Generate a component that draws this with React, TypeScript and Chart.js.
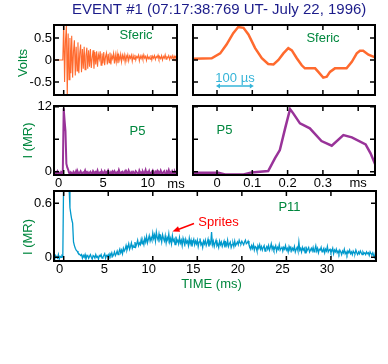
import React, { useEffect, useRef } from "react";
import { Chart, registerables } from "chart.js";
Chart.register(...registerables);

const W = 388;
const H = 364;
const FONT = "'Liberation Sans', Arial, Helvetica, sans-serif";
const GREEN = "#00873e";
const NAVY = "#1c1c8a";
const ORANGE = "#ff6a2e";
const PURPLE = "#993399";
const CYAN = "#0099cc";
const SCALEBAR = "#35b4d8";
const RED = "#ff0000";

const DT = 0.1;

// Top-left: sferic, volts, sampled every 0.1 ms from -1.1 ms
const TL_T0 = -1.1;
const TL_VOLTS = [
  0, 0, 0, 0, 0, 0, 0, 0, 0, 0, 0,
  0.85, -0.5, 0.45, 0.78, -0.82, 0.6, -0.45, 0.5, -0.3, 0.55,
  -0.4, 0.2, 0.45, -0.35, 0.3, -0.25, 0.4, -0.3, 0.15, 0.35,
  -0.28, 0.25, -0.2, 0.3, -0.22, 0.1, 0.28, -0.2, 0.22, -0.15,
  0.25, -0.18, 0.05, 0.22, -0.2, 0.18, -0.1, 0.2, -0.15, 0.12,
  0.02, 0.2, -0.12, 0.15, -0.08, 0.18, -0.12, 0.08, 0.16, -0.1,
  0.14, -0.06, 0.17, -0.1, 0.1, 0.03, 0.15, -0.08, 0.12, -0.05,
  0.14, -0.07, 0.1, 0.0, 0.13, -0.04, 0.11, 0.02, 0.12, -0.05,
  0.1, 0.03, 0.12, -0.02, 0.09, 0.04, 0.11, -0.03, 0.1, 0.02,
  0.12, 0.0, 0.08, 0.05, 0.11, -0.02, 0.09, 0.03, 0.1, 0.01,
  0.12, 0.04, 0.08, -0.01, 0.1, 0.03, 0.07, 0.02, 0.11, 0.0,
  0.09, 0.04, 0.1, 0.01, 0.08, 0.05, 0.11, 0.02, 0.07, 0.03,
  0.1, 0.0, 0.08, 0.04, 0.12, 0.02, 0.07, 0.05, 0.1, 0.01,
  0.08, 0.04, 0.1, 0.02, 0.09, 0.03, 0.08, 0.05,
];

// Top-right: sferic zoom
const TR_TIME_MS = [
  -0.067, -0.015, 0.009, 0.027, 0.046, 0.06, 0.075, 0.089, 0.108, 0.127,
  0.145, 0.16, 0.174, 0.188, 0.202, 0.212, 0.226, 0.24, 0.249, 0.263,
  0.278, 0.287, 0.301, 0.311, 0.32, 0.334, 0.353, 0.367, 0.382, 0.396,
  0.405, 0.414, 0.429, 0.448,
];
const TR_VOLTS = [
  0.03, 0.04, 0.15, 0.35, 0.61, 0.75, 0.73, 0.58, 0.27, 0.04,
  -0.09, -0.1, 0.0, 0.15, 0.27, 0.22, 0.04, -0.12, -0.19, -0.19,
  -0.19, -0.27, -0.4, -0.38, -0.27, -0.19, -0.19, -0.19, -0.04, 0.15,
  0.21, 0.21, 0.12, 0.06,
];

// Middle-left: P5 photometer, MR, every 0.1 ms from -1.1 ms
const ML_T0 = -1.1;
const ML_MR = [
  -0.3, -0.1, -0.4, -0.2, 0.1, -0.3, -0.2, -0.5, -0.1, -0.3,
  0.2, 11.7, 9.5, 7.5, 1.5, 0.8, 0.4, -0.2, -0.4, -0.1,
  -0.3, -0.5, 0.0, -0.2, -0.4, 0.1, -0.3, -0.1, -0.5, -0.2,
  0.1, -0.3, -0.4, -0.1, -0.2, 0.2, -0.4, -0.3, -0.1, -0.5,
  -0.2, 0.0, -0.3, -0.4, 0.1, -0.2, -0.5, -0.1, -0.3, 0.2,
  -0.4, -0.2, -0.1, -0.5, 0.0, -0.3, -0.2, 0.1, -0.4, -0.1,
  -0.3, 0.2, -0.2, -0.4, -0.1, -0.5, 0.0, -0.3, 0.1, -0.2,
  -0.4, -0.1, -0.3, 0.3, -0.2, -0.5, -0.1, 0.0, -0.4, -0.2,
  0.1, -0.3, -0.1, -0.4, 0.2, -0.2, -0.5, -0.1, -0.3, 0.0,
  -0.2, -0.4, 0.1, -0.1, -0.3, -0.5, 0.2, -0.2, -0.1, -0.4,
  0.0, -0.3, -0.2, 0.3, -0.4, -0.1, -0.3, 0.1, -0.5, -0.2,
  -0.1, 0.2, -0.3, -0.4, 0.0, -0.2, 0.1, -0.5, -0.1, -0.3,
  0.2, -0.2, -0.4, -0.1, 0.1, -0.3, -0.5, 0.0, -0.2, 0.3,
  -0.3, -0.1, -0.4, 0.1, -0.2, -0.5, 0.0, -0.3, -0.1,
];

// Middle-right: P5 zoom
const MR_TIME_MS = [
  -0.067, 0.004, 0.023, 0.075, 0.098, 0.145, 0.164, 0.178, 0.193, 0.207,
  0.216, 0.235, 0.263, 0.296, 0.325, 0.358, 0.382, 0.421, 0.435, 0.449,
];
const MR_MR = [
  -0.18, -0.18, -0.49, -0.49, -0.12, 0.13, 2.46, 4.0, 8.0, 11.57,
  10.77, 8.92, 8.0, 5.66, 4.8, 6.77, 6.35, 5.05, 3.39, 1.24,
];

// Bottom: P11 photometer, MR, every 0.1 ms from -1.1 ms
const B_T0 = -1.1;
const B_MR = [
  0.01, -0.02, 0.02, 0.0, -0.01, 0.03, -0.02, 0.01, 0.0, 0.02,
  0.01, 0.95, 1.1, 0.85, 1.0, 1.05, 0.9, 0.78, 0.55, 0.48,
  0.42, 0.38, 0.17, 0.13, 0.1, 0.08, 0.07, 0.05, 0.04, 0.03,
  0.02, 0.03, -0.01, 0.02, 0.0, 0.03, -0.02, 0.01, 0.02, -0.01,
  0.01, 0.03, 0.0, -0.02, 0.02, 0.01, -0.01, 0.03, 0.0, 0.01,
  -0.02, 0.02, 0.01, 0.03, -0.01, 0.0, 0.02, 0.04, -0.01, 0.02,
  0.01, 0.03, 0.0, 0.04, 0.02, 0.05, 0.01, 0.03, 0.06, 0.02,
  0.04, 0.07, 0.03, 0.06, 0.09, 0.05, 0.08, 0.04, 0.1, 0.07,
  0.09, 0.13, 0.08, 0.11, 0.15, 0.09, 0.12, 0.16, 0.1, 0.13,
  0.11, 0.17, 0.12, 0.15, 0.19, 0.13, 0.16, 0.14, 0.2, 0.15,
  0.18, 0.14, 0.21, 0.17, 0.23, 0.16, 0.2, 0.24, 0.18, 0.22,
  0.19, 0.27, 0.21, 0.25, 0.18, 0.28, 0.22, 0.19, 0.26, 0.2,
  0.23, 0.17, 0.25, 0.21, 0.18, 0.24, 0.16, 0.22, 0.19, 0.26,
  0.17, 0.21, 0.15, 0.24, 0.18, 0.2, 0.14, 0.23, 0.17, 0.19,
  0.15, 0.22, 0.16, 0.19, 0.13, 0.21, 0.17, 0.14, 0.2, 0.16,
  0.18, 0.13, 0.21, 0.15, 0.19, 0.12, 0.17, 0.2, 0.14, 0.18,
  0.15, 0.19, 0.12, 0.17, 0.21, 0.14, 0.16, 0.11, 0.18, 0.15,
  0.19, 0.13, 0.16, 0.2, 0.12, 0.17, 0.15, 0.28, 0.14, 0.18,
  0.12, 0.16, 0.19, 0.13, 0.15, 0.11, 0.18, 0.14, 0.17, 0.12,
  0.15, 0.18, 0.11, 0.16, 0.13, 0.19, 0.12, 0.15, 0.17, 0.11,
  0.14, 0.16, 0.12, 0.18, 0.13, 0.15, 0.17, 0.14, 0.19, 0.16,
  0.15, 0.18, 0.16, 0.14, 0.17, 0.19, 0.15, 0.16, 0.18, 0.14,
  0.12, 0.09, 0.13, 0.1, 0.14, 0.08, 0.12, 0.11, 0.07, 0.13,
  0.1, 0.14, 0.09, 0.12, 0.08, 0.11, 0.13, 0.07, 0.1, 0.12,
  0.09, 0.13, 0.08, 0.11, 0.15, 0.09, 0.12, 0.08, 0.1, 0.13,
  0.07, 0.11, 0.09, 0.14, 0.08, 0.1, 0.12, 0.07, 0.11, 0.09,
  0.13, 0.08, 0.1, 0.06, 0.12, 0.09, 0.11, 0.07, 0.1, 0.08,
  0.12, 0.06, 0.09, 0.11, 0.07, 0.17, 0.08, 0.1, 0.06, 0.11,
  0.08, 0.1, 0.05, 0.12, 0.07, 0.09, 0.11, 0.06, 0.08, 0.1,
  0.07, 0.11, 0.06, 0.09, 0.13, 0.07, 0.1, 0.05, 0.09, 0.08,
  0.11, 0.06, 0.08, 0.1, 0.05, 0.09, 0.07, 0.12, 0.06, 0.08,
  0.09, 0.05, 0.07, 0.1, 0.04, 0.08, 0.06, 0.09, 0.05, 0.07,
  0.04, 0.08, 0.06, 0.03, 0.07, 0.05, 0.09, 0.04, 0.06, 0.03,
  0.07, 0.05, 0.08, 0.04, 0.06, 0.03, 0.07, 0.05, 0.04, 0.08,
  0.05, 0.03, 0.06, 0.04, 0.07, 0.05, 0.03, 0.06, 0.04, 0.05,
  0.03, 0.06, 0.04, 0.05, 0.02, 0.06, 0.04, 0.03, 0.05, 0.02,
  0.0, 0.06,
];

// Axis ticks and labels
const MS_TICKS = [0, 5, 10];
const MS_LABELS = ["0", "5", "10"];
const SHORT_TICKS = [0, 0.1, 0.2, 0.3, 0.4];
const SHORT_LABELS = ["0", "0.1", "0.2", "0.3", "ms"];
const TIME_TICKS = [0, 5, 10, 15, 20, 25, 30];
const TIME_LABELS = ["0", "5", "10", "15", "20", "25", "30"];
const VOLT_TICKS = [-0.5, 0, 0.5];
const VOLT_LABELS = ["-0.5", "0", "0.5"];
const P5_TICKS = [0, 6, 12];
const P5_LABELS = ["0", "", "12"];
const P11_TICKS = [0, 0.6];
const P11_LABELS = ["0", "0.6"];

const TITLE = "EVENT #1 (07:17:38:769 UT- July 22, 1996)";

const sampled = (t0: number, vals: number[]) =>
  vals.map((v, i) => ({ x: Math.round((t0 + i * DT) * 100) / 100, y: v }));
const paired = (ts: number[], vs: number[]) => ts.map((t, i) => ({ x: t, y: vs[i] }));

type Ctx = CanvasRenderingContext2D;

function text(ctx: Ctx, s: string, x: number, y: number, color: string, size = 13, align: CanvasTextAlign = "center") {
  ctx.save();
  ctx.font = `${size}px ${FONT}`;
  ctx.fillStyle = color;
  ctx.textAlign = align;
  ctx.textBaseline = "middle";
  ctx.fillText(s, x, y);
  ctx.restore();
}

function vtext(ctx: Ctx, s: string, x: number, y: number, color: string, size = 13) {
  ctx.save();
  ctx.translate(x, y);
  ctx.rotate(-Math.PI / 2);
  ctx.font = `${size}px ${FONT}`;
  ctx.fillStyle = color;
  ctx.textAlign = "center";
  ctx.textBaseline = "middle";
  ctx.fillText(s, 0, 0);
  ctx.restore();
}

function arrowHead(ctx: Ctx, fx: number, fy: number, tx: number, ty: number, len: number, half: number) {
  const dx = tx - fx, dy = ty - fy;
  const d = Math.hypot(dx, dy);
  const ux = dx / d, uy = dy / d;
  const bx = tx - ux * len, by = ty - uy * len;
  ctx.beginPath();
  ctx.moveTo(tx, ty);
  ctx.lineTo(bx - uy * half, by + ux * half);
  ctx.lineTo(bx + uy * half, by - ux * half);
  ctx.closePath();
  ctx.fill();
}

type Panel = {
  area: [number, number, number, number];
  xMin: number; xMax: number; yMin: number; yMax: number;
  xTicks: number[]; xLabels: string[] | null; xLabelOffset: number;
  yTicks: number[]; yLabels: string[] | null;
  data: { x: number; y: number }[];
  color: string; width: number;
  decorate?: (ctx: Ctx, chart: any) => void;
};

const YW = 44;
const XH = 22;
const TICK = 5;

function makeConfig(p: Panel): any {
  const [l, t, r, b] = p.area;
  const frame = {
    id: "frame",
    afterDraw(chart: any) {
      const { ctx, chartArea: a } = chart;
      const xs = chart.scales.x, ys = chart.scales.y;
      ctx.save();
      ctx.strokeStyle = "#000";
      ctx.lineWidth = 2;
      ctx.strokeRect(a.left, a.top, a.right - a.left, a.bottom - a.top);
      ctx.lineWidth = 1.5;
      ctx.beginPath();
      for (const tk of xs.ticks) {
        const px = xs.getPixelForValue(tk.value);
        ctx.moveTo(px, a.top); ctx.lineTo(px, a.top + TICK);
        ctx.moveTo(px, a.bottom); ctx.lineTo(px, a.bottom - TICK);
      }
      for (const tk of ys.ticks) {
        const py = ys.getPixelForValue(tk.value);
        ctx.moveTo(a.left, py); ctx.lineTo(a.left + TICK, py);
        ctx.moveTo(a.right, py); ctx.lineTo(a.right - TICK, py);
      }
      ctx.stroke();
      if (p.decorate) p.decorate(ctx, chart);
      ctx.restore();
    },
  };
  const tickFont = { family: FONT, size: 13 };
  return {
    type: "line",
    data: {
      datasets: [{
        data: p.data,
        borderColor: p.color,
        borderWidth: p.width,
        pointRadius: 0,
        tension: 0,
        fill: false,
      }],
    },
    options: {
      animation: false,
      responsive: false,
      devicePixelRatio: 1,
      events: [],
      parsing: false,
      layout: { padding: { left: l - YW, top: t, right: W - r, bottom: H - b - XH } },
      plugins: { legend: { display: false }, tooltip: { enabled: false }, title: { display: false } },
      scales: {
        x: {
          type: "linear", position: "bottom", min: p.xMin, max: p.xMax,
          grid: { display: false, drawTicks: false }, border: { display: false },
          afterBuildTicks: (s: any) => { s.ticks = p.xTicks.map((v) => ({ value: v })); },
          afterFit: (s: any) => { s.height = XH; },
          ticks: {
            display: !!p.xLabels, autoSkip: false, maxRotation: 0, minRotation: 0,
            padding: 1, labelOffset: p.xLabelOffset, color: "#000", font: tickFont,
            callback: (_v: any, i: number) => (p.xLabels ? p.xLabels[i] : ""),
          },
        },
        y: {
          type: "linear", position: "left", min: p.yMin, max: p.yMax,
          grid: { display: false, drawTicks: false }, border: { display: false },
          afterBuildTicks: (s: any) => { s.ticks = p.yTicks.map((v) => ({ value: v })); },
          afterFit: (s: any) => { s.width = YW; },
          ticks: {
            display: !!p.yLabels, autoSkip: false, padding: 2, color: "#000", font: tickFont,
            callback: (_v: any, i: number) => (p.yLabels ? p.yLabels[i] : ""),
          },
        },
      },
    },
    plugins: [frame],
  };
}

const PANELS: Panel[] = [
  {
    area: [54, 25, 177, 95],
    xMin: -1.09, xMax: 12.73, yMin: -0.795, yMax: 0.795,
    xTicks: MS_TICKS, xLabels: null, xLabelOffset: 0,
    yTicks: VOLT_TICKS, yLabels: VOLT_LABELS,
    data: sampled(TL_T0, TL_VOLTS), color: ORANGE, width: 1.1,
    decorate: (ctx) => {
      ctx.save();
      ctx.font = `15px ${FONT}`;
      ctx.fillStyle = NAVY;
      ctx.textAlign = "left";
      ctx.textBaseline = "alphabetic";
      ctx.fillText(TITLE, 72, 14);
      ctx.restore();
      vtext(ctx, "Volts", 23.5, 63, GREEN);
      text(ctx, "Sferic", 136, 35, GREEN);
    },
  },
  {
    area: [193, 25, 375, 95],
    xMin: -0.068, xMax: 0.4476, yMin: -0.795, yMax: 0.795,
    xTicks: SHORT_TICKS, xLabels: null, xLabelOffset: 0,
    yTicks: VOLT_TICKS, yLabels: null,
    data: paired(TR_TIME_MS, TR_VOLTS), color: ORANGE, width: 2.5,
    decorate: (ctx, chart) => {
      text(ctx, "Sferic", 323, 38, GREEN);
      text(ctx, "100 \u00b5s", 235, 78, SCALEBAR);
      const xs = chart.scales.x;
      const x0 = xs.getPixelForValue(0) - 1;
      const x1 = xs.getPixelForValue(0.1) + 1.5;
      const y = 86;
      ctx.save();
      ctx.strokeStyle = SCALEBAR;
      ctx.fillStyle = SCALEBAR;
      ctx.lineWidth = 1.5;
      ctx.beginPath();
      ctx.moveTo(x0 + 3, y); ctx.lineTo(x1 - 3, y);
      ctx.stroke();
      arrowHead(ctx, x1, y, x0, y, 4, 2.5);
      arrowHead(ctx, x0, y, x1, y, 4, 2.5);
      ctx.restore();
    },
  },
  {
    area: [54, 106, 177, 175],
    xMin: -1.09, xMax: 12.73, yMin: -0.6, yMax: 12.13,
    xTicks: MS_TICKS, xLabels: MS_LABELS, xLabelOffset: -5,
    yTicks: P5_TICKS, yLabels: P5_LABELS,
    data: sampled(ML_T0, ML_MR), color: PURPLE, width: 2,
    decorate: (ctx) => {
      vtext(ctx, "I (MR)", 28, 140.5, GREEN);
      text(ctx, "P5", 137.5, 131.5, GREEN);
      text(ctx, "ms", 176, 184, "#000");
    },
  },
  {
    area: [193, 106, 375, 175],
    xMin: -0.068, xMax: 0.4476, yMin: -0.6, yMax: 12.13,
    xTicks: SHORT_TICKS, xLabels: SHORT_LABELS, xLabelOffset: 0,
    yTicks: P5_TICKS, yLabels: null,
    data: paired(MR_TIME_MS, MR_MR), color: PURPLE, width: 2.5,
    decorate: (ctx) => {
      text(ctx, "P5", 224.5, 130.5, GREEN);
    },
  },
  {
    area: [54, 191, 376, 261],
    xMin: -1.09, xMax: 35.06, yMin: -0.041, yMax: 0.737,
    xTicks: TIME_TICKS, xLabels: TIME_LABELS, xLabelOffset: -4,
    yTicks: P11_TICKS, yLabels: P11_LABELS,
    data: sampled(B_T0, B_MR), color: CYAN, width: 1.3,
    decorate: (ctx) => {
      vtext(ctx, "I (MR)", 28.5, 237, GREEN);
      text(ctx, "TIME (ms)", 211.5, 284, GREEN);
      text(ctx, "P11", 289.5, 207, GREEN);
      text(ctx, "Sprites", 218.5, 222, RED);
      ctx.save();
      ctx.strokeStyle = RED;
      ctx.fillStyle = RED;
      ctx.lineWidth = 1.5;
      ctx.beginPath();
      ctx.moveTo(194, 223.5);
      ctx.lineTo(177.5, 229.8);
      ctx.stroke();
      arrowHead(ctx, 194, 223.5, 172.5, 231.5, 7, 3);
      ctx.restore();
    },
  },
];

export default function App() {
  const refs = useRef<(HTMLCanvasElement | null)[]>([]);
  useEffect(() => {
    const charts = PANELS.map((p, i) => new Chart(refs.current[i] as HTMLCanvasElement, makeConfig(p)));
    return () => charts.forEach((c) => c.destroy());
  }, []);
  return (
    <div style={{ position: "absolute", left: 0, top: 0, width: W, height: H, background: "#fff" }}>
      {PANELS.map((_, i) => (
        <canvas
          key={i}
          ref={(el) => { refs.current[i] = el; }}
          width={W}
          height={H}
          style={{ position: "absolute", left: 0, top: 0, width: W, height: H }}
        />
      ))}
    </div>
  );
}
